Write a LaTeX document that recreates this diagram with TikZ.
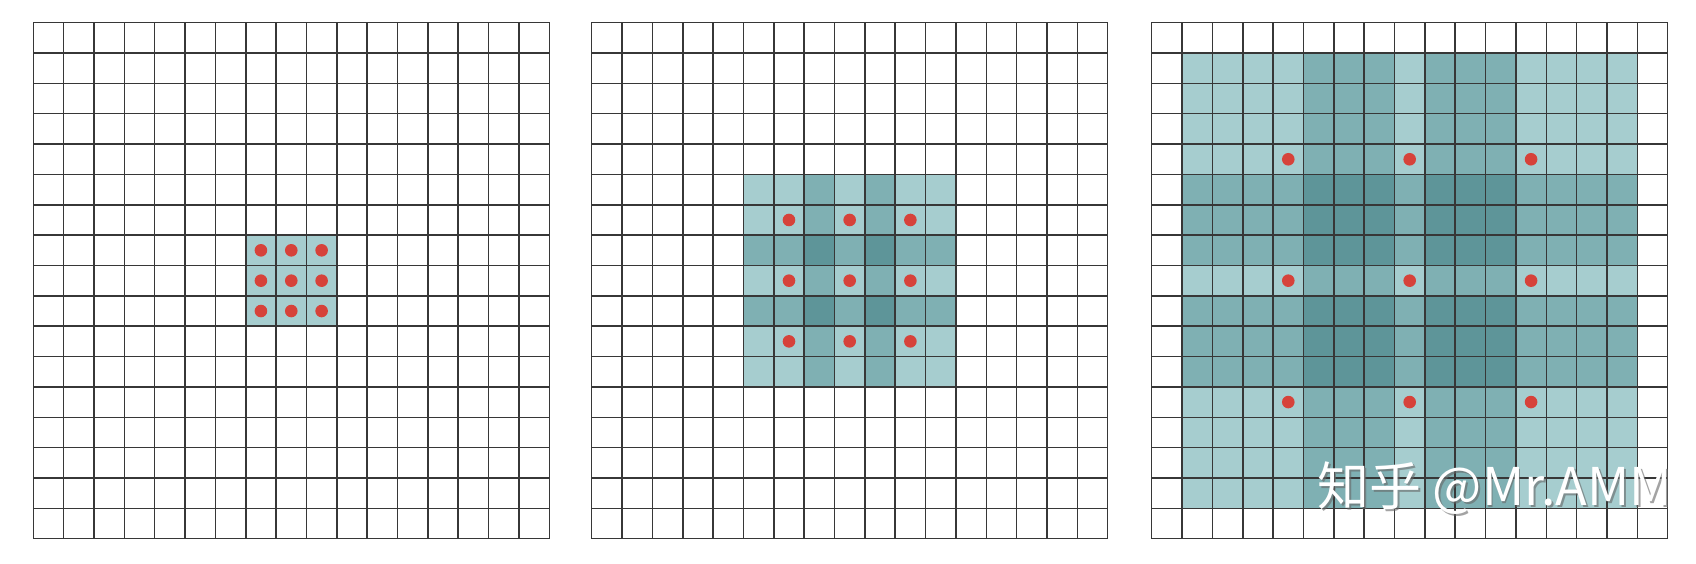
\documentclass[tikz,border=0pt]{standalone}
\usepackage{fontspec}
\newfontfamily\cjk{Noto Sans CJK SC}
\definecolor{lv1}{RGB}{166,205,207}
\definecolor{lv2}{RGB}{127,176,179}
\definecolor{lv4}{RGB}{94,149,153}
\definecolor{gridc}{RGB}{55,55,55}
\definecolor{dotc}{RGB}{214,66,58}
\def\c{30.35}
\def\yo{22.7}
\def\arrA{{0,0,0,0,0,0,0,1,1,1,0,0,0,0,0,0,0}}
\def\arrB{{0,0,0,0,0,1,1,2,1,2,1,1,0,0,0,0,0}}
\def\arrC{{0,1,1,1,1,2,2,2,1,2,2,2,1,1,1,1,0}}
\newcommand\drawgrid[3]{%
  \foreach \i in {0,...,16}{\foreach \j in {0,...,16}{%
    \pgfmathtruncatemacro\lvl{#2[\i]*#2[\j]}%
    \ifnum\lvl>0 \fill[fill=lv\lvl] (#1+\i*\c,\yo+\j*\c) rectangle ++(\c,\c);\fi
  }}%
  \foreach \k in {0,...,17}{%
    \draw[gridline] (#1+\k*\c,\yo) -- ++(0,17*\c);
    \draw[gridline] (#1,\yo+\k*\c) -- ++(17*\c,0);
  }%
  \foreach \i in {#3}{\foreach \j in {#3}{%
    \fill[dot] (#1+\i*\c+0.5*\c,\yo+\j*\c+0.5*\c) circle[radius=6.3];
  }}%
}
\begin{document}
\begin{tikzpicture}[x=1pt,y=-1pt,
  gridline/.style={draw=gridc,line width=1.5pt,line cap=rect},
  dot/.style={fill=dotc},
  wmark/.style={anchor=base west,inner sep=0pt,font=\cjk\fontsize{52}{52}\selectfont}]
\useasboundingbox[fill=white] (0,0) rectangle (1696,564);
\drawgrid{33.3}{\arrA}{7,8,9}
\drawgrid{591.7}{\arrB}{6,8,10}
\drawgrid{1151.7}{\arrC}{4,8,12}
\node[wmark,text=black!60,opacity=0.6] (wmshadow) at (1318.8,507.3) {知乎 @Mr.AMM};
\node[wmark,text=white] (wm) at (1317,505.5) {知乎 @Mr.AMM};
\end{tikzpicture}
\end{document}
